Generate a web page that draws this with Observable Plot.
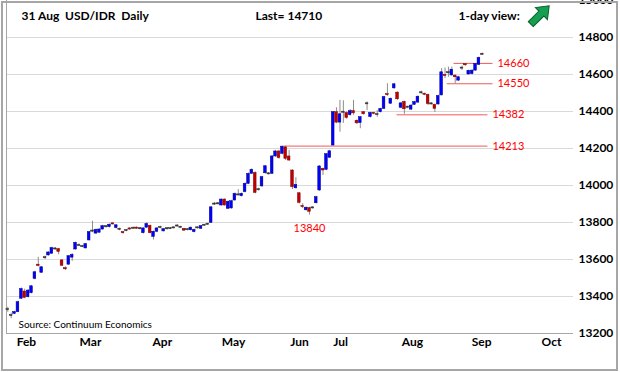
<!DOCTYPE html>
<html><head><meta charset="utf-8">
<script src="https://cdn.jsdelivr.net/npm/d3@7"></script>
<script src="https://cdn.jsdelivr.net/npm/@observablehq/plot@0.6"></script>
<style>
body{margin:0;background:#fff}
#wrap{position:relative;width:620px;height:372px;overflow:hidden;background:#fff}
#border{position:absolute;left:1px;top:1px;width:613px;height:366px;border:2px solid #a6a6a6;pointer-events:none}
</style></head><body><div id="wrap"><div id="border"></div></div>
<script>
// Daily OHLC, trading-day index 0..140 (24 Jan .. 31 Aug)
const open  = [13330,13298,13306,13315,13388,13427,13396,13418,13495,13572,13528,13608,13622,13631,13656,13656,13595,13553,13572,13610,13654,13675,13671,13660,13703,13752,13740,13745,13762,13778,13775,13795,13770,13762,13748,13755,13768,13768,13772,13767,13742,13772,13782,13722,13750,13772,13752,13765,13768,13770,13780,13773,13765,13760,13758,13748,13770,13766,13784,13789,13798,13898,13900,13892,13924,13874,13876,13919,13948,13942,13964,14009,14063,14068,13976,13995,14066,14062,14063,14157,14184,14171,14206,14157,14081,13985,13958,13888,13866,13878,13878,13904,13973,14090,14085,14150,14216,14396,14340,14395,14392,14380,14402,14350,14337,14396,14440,14370,14392,14382,14396,14414,14493,14442,14525,14502,14420,14452,14422,14410,14436,14448,14500,14496,14490,14440,14436,14438,14487,14597,14608,14595,14594,14567,14633,14655,14600,14602,14621,14652,14708];
const high  = [13342,13310,13320,13375,13446,13440,13438,13460,13536,13612,13562,13618,13642,13667,13665,13660,13600,13560,13622,13632,13694,13684,13676,13687,13752,13807,13765,13768,13785,13784,13792,13800,13788,13770,13752,13762,13772,13775,13776,13772,13772,13800,13786,13754,13772,13780,13768,13772,13772,13776,13788,13780,13768,13766,13776,13764,13776,13784,13790,13796,13886,13908,13908,13928,13928,13916,13920,13960,13978,13960,14014,14068,14090,14074,13985,14050,14108,14070,14162,14190,14190,14213,14213,14190,14085,14042,13962,13902,13884,13882,13885,13942,14108,14094,14173,14190,14400,14420,14460,14458,14398,14410,14460,14355,14373,14400,14452,14396,14396,14405,14418,14482,14550,14473,14552,14506,14448,14456,14430,14436,14455,14484,14510,14500,14494,14448,14440,14488,14632,14635,14640,14640,14598,14590,14646,14660,14624,14625,14660,14694,14716];
const low   = [13315,13280,13302,13312,13384,13388,13392,13414,13490,13560,13524,13600,13618,13628,13650,13626,13562,13540,13568,13590,13650,13670,13664,13656,13700,13745,13735,13740,13758,13770,13770,13786,13765,13755,13736,13750,13758,13763,13762,13760,13738,13768,13738,13706,13745,13766,13748,13760,13762,13765,13775,13768,13752,13755,13754,13744,13765,13762,13780,13785,13795,13892,13895,13888,13888,13870,13872,13915,13944,13938,13960,14005,14060,13955,13970,13990,14062,14056,14060,14152,14142,14166,14135,14130,13978,13980,13900,13875,13862,13840,13872,13900,13968,14054,14080,14146,14213,14334,14288,14336,14358,14375,14380,14330,14307,14380,14405,14365,14382,14369,14392,14410,14482,14438,14520,14460,14415,14385,14415,14406,14432,14444,14494,14485,14432,14435,14395,14434,14484,14578,14585,14590,14550,14562,14622,14645,14596,14598,14618,14648,14703];
const close = [13328,13296,13316,13369,13440,13393,13432,13455,13531,13565,13558,13611,13638,13662,13658,13641,13566,13547,13618,13625,13690,13677,13669,13683,13748,13755,13760,13762,13780,13776,13788,13790,13785,13764,13742,13757,13762,13770,13767,13766,13768,13792,13742,13750,13768,13774,13764,13767,13766,13772,13782,13775,13756,13762,13772,13760,13772,13780,13786,13792,13882,13901,13902,13924,13892,13912,13915,13955,13950,13955,14009,14063,14085,13960,13978,14045,14104,14064,14157,14184,14148,14210,14144,14135,13991,14003,13906,13884,13880,13858,13880,13937,14103,14081,14169,14185,14396,14340,14385,14397,14365,14402,14390,14336,14369,14385,14443,14392,14388,14384,14414,14478,14489,14469,14547,14466,14444,14412,14424,14432,14451,14480,14502,14490,14440,14442,14414,14484,14612,14592,14611,14626,14585,14585,14636,14650,14620,14621,14657,14690,14710];

// Month labels and their positions on the trading-day axis
const monthLabels = ["Feb","Mar","Apr","May","Jun","Jul","Aug","Sep","Oct"];
const monthPos    = [5.5, 24.4, 45.6, 66.6, 86.1, 98.2, 119.4, 139.8, 160.4];
// Y tick labels
const yTicks = [13200,13400,13600,13800,14000,14200,14400,14600,14800,15000];
const gridTicks = [13400,13600,13800,14000,14200,14400,14600,14800];
// Support / resistance levels
const levelValues = [14660, 14550, 14382, 14213];
const levelFrom   = [131.5, 129.5, 114.7, 81.4];
const levelTo     = [143, 143, 141.5, 141.5];
const lowValue = 13840, lowIndex = 89;
const titleText = "31 Aug  USD/IDR  Daily";
const viewText = "1-day view:";
const sourceText = "Source: Continuum Economics";

const candles = close.map((c, i) => ({i, o: open[i], h: high[i], l: low[i], c}));
const levels = levelValues.map((v, k) => ({v, from: levelFrom[k], to: levelTo[k]}));
const isDoji = d => Math.abs(d.c - d.o) <= 3;
const bodyLo = d => Math.abs(d.c - d.o) < 6 ? (d.c + d.o) / 2 - 3 : Math.min(d.o, d.c);
const bodyHi = d => Math.abs(d.c - d.o) < 6 ? (d.c + d.o) / 2 + 3 : Math.max(d.o, d.c);
const fillOf = d => isDoji(d) ? "#333" : d.c >= d.o ? "#0000ff" : "#c00000";
const strokeOf = d => isDoji(d) ? "#333" : d.c >= d.o ? "#00008b" : "#800000";

const arrowMark = (index, scales, values, dim) => {
  const g = d3.create("svg:g")
    .attr("transform", `translate(${dim.width - dim.marginRight - 33},15) rotate(-45) translate(-13,0)`);
  g.append("path")
    .attr("d", "M0,-3.5L15,-3.5L15,-8.5L26,0L15,8.5L15,3.5L0,3.5Z")
    .attr("fill", "#14a050").attr("stroke", "#0b5e2e").attr("stroke-width", 1);
  return g.node();
};

const font = "Lato, 'Open Sans', sans-serif";
const chart = Plot.plot({
  width: 620, height: 372,
  marginLeft: 6, marginRight: 47, marginTop: 0, marginBottom: 39,
  style: {fontFamily: font, fontSize: "12px", color: "#000", background: "transparent"},
  x: {domain: [-0.38, 166.9]},
  y: {domain: [13200, 15000]},
  marks: [
    Plot.gridY(gridTicks, {stroke: "#d9d9d9", strokeOpacity: 1}),
    Plot.ruleY([13200], {stroke: "#a6a6a6"}),
    Plot.ruleX([-0.38], {stroke: "#a6a6a6"}),
    Plot.link(levels, {x1: "from", x2: "to", y1: "v", y2: "v", stroke: "#f05a5a", strokeWidth: 1}),
    Plot.ruleX(candles, {x: "i", y1: "l", y2: "h", stroke: "#8c8c8c", strokeWidth: 1}),
    Plot.rect(candles, {x1: d => d.i - 0.4, x2: d => d.i + 0.4, y1: bodyLo, y2: bodyHi,
      fill: fillOf, stroke: strokeOf, strokeWidth: 0.5}),
    Plot.text(levels, {x: "to", y: "v", text: d => String(d.v), dx: 5, textAnchor: "start",
      fill: "#ff0000", fontSize: 11}),
    Plot.text([{i: lowIndex, v: lowValue}], {x: "i", y: "v", text: d => String(d.v), dy: 13,
      fill: "#ff0000", fontSize: 11}),
    Plot.text([titleText], {frameAnchor: "top-left", dx: 15, dy: 16, lineAnchor: "middle",
      textAnchor: "start", fontWeight: "bold", fontSize: 12}),
    Plot.text([`Last= ${close[close.length - 1]}`], {frameAnchor: "top-left", dx: 249, dy: 16,
      lineAnchor: "middle", textAnchor: "start", fontWeight: "bold", fontSize: 12}),
    Plot.text([viewText], {frameAnchor: "top-left", dx: 452, dy: 16, lineAnchor: "middle",
      textAnchor: "start", fontWeight: "bold", fontSize: 12}),
    Plot.text([sourceText], {frameAnchor: "bottom-left", dx: 12, dy: -9, lineAnchor: "middle",
      textAnchor: "start", fontSize: 10}),
    arrowMark,
    Plot.axisY({anchor: "right", ticks: yTicks, tickSize: 0, tickPadding: 5, fontWeight: "bold",
      fontSize: 12, label: null, tickFormat: d => String(d)}),
    Plot.axisX({anchor: "bottom", ticks: monthPos, tickSize: 0, tickPadding: 4, fontWeight: "bold",
      fontSize: 12, label: null, tickFormat: d => monthLabels[monthPos.indexOf(d)]})
  ]
});
document.getElementById("wrap").prepend(chart);
</script></body></html>
